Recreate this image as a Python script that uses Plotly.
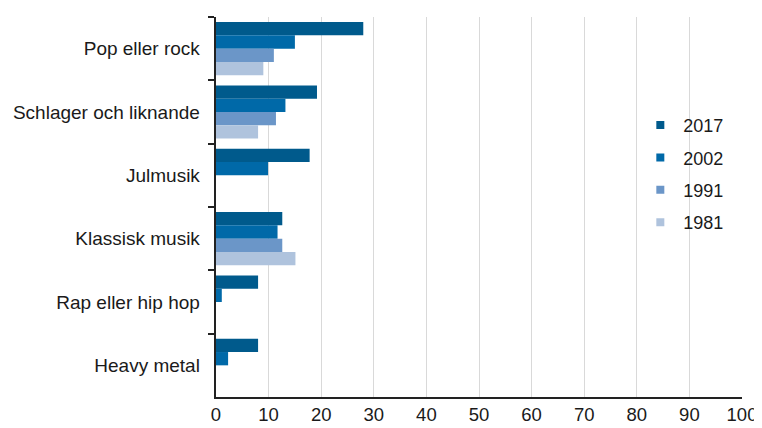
import plotly.graph_objects as go

categories = ["Pop eller rock", "Schlager och liknande", "Julmusik", "Klassisk musik", "Rap eller hip hop", "Heavy metal"]
years = ["2017", "2002", "1991", "1981"]
v2017 = [28, 19.2, 17.8, 12.6, 8, 8]
v2002 = [15, 13.2, 9.9, 11.7, 1.1, 2.3]
v1991 = [11, 11.4, None, 12.6, None, None]
v1981 = [9, 8, None, 15.1, None, None]
series = [v2017, v2002, v1991, v1981]
colors = ["#005a8c", "#0069a8", "#6b96c8", "#afc3dd"]
x_ticks = list(range(0, 101, 10))

fig = go.Figure()
for name, vals, col in zip(years, series, colors):
    fig.add_trace(go.Bar(
        y=categories, x=vals, name=name, orientation="h",
        marker=dict(color=col, line=dict(width=0)),
        showlegend=False,
    ))
for name, col in zip(years, colors):
    fig.add_trace(go.Scatter(
        x=[None], y=[None], mode="markers", name=name, legendgroup=name,
        marker=dict(symbol="square", size=8, color=col),
    ))

# page body has an 8px default margin, so the figure is shifted; compensate
fig.update_layout(
    width=754, height=420,
    margin=dict(l=208, r=20, t=9, b=31),
    paper_bgcolor="white", plot_bgcolor="white",
    barmode="group", bargap=0.16, bargroupgap=0,
    font=dict(family="Liberation Sans, Arial", size=18, color="#1a1a1a"),
    legend=dict(x=0.801, y=0.7635, xanchor="left", yanchor="top",
                traceorder="grouped", tracegroupgap=6,
                font=dict(size=18), itemwidth=36, bgcolor="rgba(0,0,0,0)"),
)
fig.update_xaxes(
    range=[0, 100], tickvals=x_ticks, showgrid=True, gridcolor="#d9d9d9", gridwidth=1,
    showline=True, linecolor="#222", linewidth=1.5, ticks="", zeroline=False,
    tickfont=dict(size=18.5), automargin=False,
)
fig.update_yaxes(
    autorange="reversed", showline=True, linecolor="#222", linewidth=1.5,
    ticks="outside", tickson="boundaries", ticklen=6, tickcolor="#222", tickwidth=1.5,
    showgrid=False, tickfont=dict(size=19), ticksuffix="  ", automargin=False,
)
fig.write_html("out.html")
